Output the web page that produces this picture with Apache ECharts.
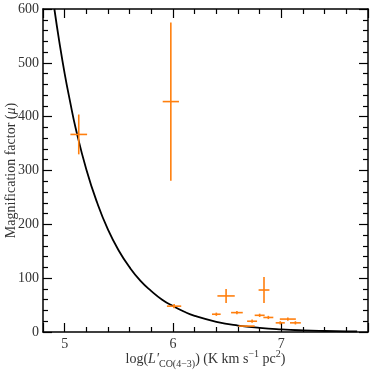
<!DOCTYPE html>
<html>
<head>
<meta charset="utf-8">
<script src="https://cdn.jsdelivr.net/npm/echarts@6/dist/echarts.min.js"></script>
<style>
  html, body { margin: 0; padding: 0; background: #fff; }
  #main { width: 382px; height: 374px; }
</style>
</head>
<body>
<div id="main"></div>
<script>
// measured points: log L'CO(4-3), magnification, and their errors
var logL = [5.13, 5.98, 6.01, 6.49, 6.40, 6.59, 6.84, 6.73, 6.68, 6.80, 6.88, 6.99, 7.06, 7.13];
var mu = [367, 428, 48, 67, 33, 36, 78, 20, 11, 31, 27, 17, 24, 17];
var logLErr = [0.077, 0.075, 0.066, 0.08, 0.04, 0.054, 0.05, 0.046, 0.074, 0.046, 0.046, 0.042, 0.074, 0.05];
var muErr = [37, 147, 4, 13, 3, 3, 24, 3, 1, 3, 3, 3, 3, 3];

// black model curve
var curveX = [4.905, 4.95, 5.0, 5.05, 5.1, 5.2, 5.3, 5.4, 5.5, 5.6, 5.7, 5.8, 5.9, 6.0, 6.1, 6.2, 6.4, 6.6, 6.8, 7.0, 7.2, 7.4, 7.6, 7.7];
var curveY = [600, 540, 480, 428, 380, 302, 240, 190, 151, 120, 95, 76, 60, 48, 38, 30, 19, 12, 7.6, 4.8, 3.0, 1.9, 1.2, 1.0];

var orange = '#ff7f0e';
var font = 'Liberation Serif';

var curveData = curveX.map(function (x, i) { return [x, curveY[i]]; });
var pointData = logL.map(function (x, i) { return [x, mu[i], logLErr[i], muErr[i]]; });

var tick = {
    show: true, inside: true, length: 9,
    lineStyle: { color: '#000', width: 1.2 }
};
var minor = {
    show: true, splitNumber: 5, length: 5,
    lineStyle: { color: '#000', width: 1.2 }
};
var frame = { show: true, onZero: false, lineStyle: { color: '#000', width: 1.5 } };

var myChart = echarts.init(document.getElementById('main'));
myChart.setOption({
    animation: false,
    grid: { left: 43, right: 14, top: 9, bottom: 42, outerBoundsMode: 'none', containLabel: false },
    xAxis: [{
        type: 'value',
        min: 4.8, max: 7.8,
        splitNumber: 3,
        position: 'bottom',
        axisLine: frame,
        axisTick: tick,
        minorTick: minor,
        splitLine: { show: false },
        axisLabel: {
            margin: 5,
            fontFamily: font, fontSize: 14, color: '#333',
            formatter: function (v) { return Math.abs(v - Math.round(v)) < 1e-6 ? String(Math.round(v)) : ''; }
        },
        name: '{t|log(}{i|L′}{sub|CO(4−3)}{t|) (K km s}{sup|−1}{t| pc}{sup|2}{t|)}',
        nameLocation: 'middle',
        nameGap: 17,
        nameMoveOverlap: false,
        nameTextStyle: {
            verticalAlign: 'top',
            rich: {
                t: { fontFamily: font, fontSize: 14, color: '#333', lineHeight: 20, verticalAlign: 'middle' },
                i: { fontFamily: font, fontSize: 14, fontStyle: 'italic', color: '#333', lineHeight: 20, verticalAlign: 'middle' },
                sub: { fontFamily: font, fontSize: 10, color: '#333', lineHeight: 20, verticalAlign: 'bottom' },
                sup: { fontFamily: font, fontSize: 10, color: '#333', lineHeight: 20, verticalAlign: 'top' }
            }
        }
    }, {
        type: 'value',
        min: 4.8, max: 7.8,
        splitNumber: 3,
        position: 'top',
        axisLine: frame,
        axisTick: tick,
        minorTick: minor,
        splitLine: { show: false },
        axisLabel: { show: false }
    }],
    yAxis: [{
        type: 'value',
        min: 0, max: 600, interval: 100,
        position: 'left',
        axisLine: frame,
        axisTick: tick,
        minorTick: minor,
        splitLine: { show: false },
        axisLabel: { margin: 4, fontFamily: font, fontSize: 14, color: '#333' },
        name: '{t|Magnification factor (}{i|μ}{t|)}',
        nameLocation: 'middle',
        nameGap: 25,
        nameMoveOverlap: false,
        nameTextStyle: {
            rich: {
                t: { fontFamily: font, fontSize: 14, color: '#333' },
                i: { fontFamily: font, fontSize: 14, fontStyle: 'italic', color: '#333' }
            }
        }
    }, {
        type: 'value',
        min: 0, max: 600, interval: 100,
        position: 'right',
        axisLine: frame,
        axisTick: tick,
        minorTick: minor,
        splitLine: { show: false },
        axisLabel: { show: false }
    }],
    series: [{
        type: 'line',
        data: curveData,
        smooth: true,
        showSymbol: false,
        lineStyle: { color: '#000', width: 1.8 },
        z: 2
    }, {
        type: 'custom',
        data: pointData,
        z: 3,
        renderItem: function (params, api) {
            var x = api.value(0), y = api.value(1), xe = api.value(2), ye = api.value(3);
            var h1 = api.coord([x - xe, y]), h2 = api.coord([x + xe, y]);
            var v1 = api.coord([x, y - ye]), v2 = api.coord([x, y + ye]);
            var style = { stroke: orange, lineWidth: 1.6, fill: null };
            return {
                type: 'group',
                children: [
                    { type: 'line', shape: { x1: h1[0], y1: h1[1], x2: h2[0], y2: h2[1] }, style: style },
                    { type: 'line', shape: { x1: v1[0], y1: v1[1], x2: v2[0], y2: v2[1] }, style: style }
                ]
            };
        }
    }]
});
</script>
</body>
</html>
